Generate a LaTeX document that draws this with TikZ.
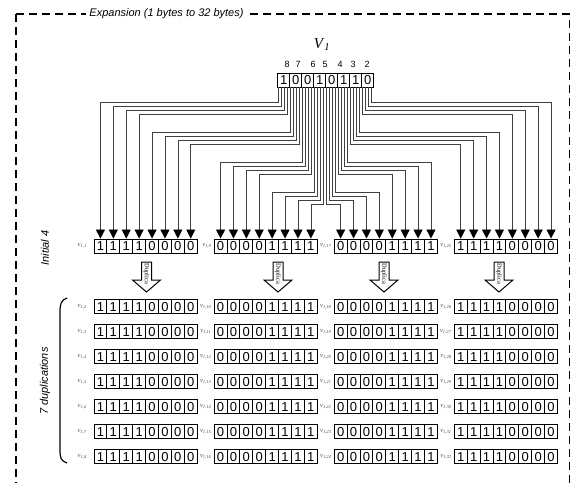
\documentclass[tikz,border=0pt]{standalone}
\usepackage{fontspec}
\setmainfont{Liberation Sans}
\newfontfamily\serifv{Liberation Serif}
\usetikzlibrary{arrows.meta,calc}
\begin{document}
\begin{tikzpicture}[x=1pt,y=-1pt,
  cell/.style={draw=black,line width=0.9pt,minimum width=12.9pt,minimum height=14pt,inner sep=0pt,font=\fontsize{13}{13}\selectfont},
  rcell/.style={cell,minimum width=12pt},
  num/.style={inner sep=0pt,font=\fontsize{9}{9}\selectfont},
  lab/.style={inner sep=0pt,text=black!70,font=\serifv\fontsize{6.5}{6.5}\selectfont},
  wire/.style={draw=black!75,line width=0.7pt,-{Triangle[width=9pt,length=9pt,color=black]}},
  dupar/.style={draw=black,line width=1pt,fill=white,line join=miter},
  dtext/.style={inner sep=0pt,font=\serifv\fontsize{6.5}{6.5}\selectfont,rotate=-90,anchor=west},
  side/.style={inner sep=0pt,font=\itshape\fontsize{11}{11}\selectfont,rotate=90},
  frame/.style={draw=black,line width=1.4pt,dash pattern=on 8pt off 5pt},
  brk/.style={draw=black,line width=1.2pt}
]
\clip (0,0) rectangle (577,482);
% frame
\draw[frame] (16,14) -- (16,490);
\draw[frame] (16,14) -- (569.5,14) -- (569.5,490);
\node[fill=white,inner sep=3pt,font=\itshape\fontsize{11}{11}\selectfont] (title) at (166.5,14) {Expansion (1 bytes to 32 bytes)};
% source register
\node[inner sep=0pt] (V) at (322,45) {\serifv\fontsize{15}{15}\selectfont\textit{V}\textsubscript{\textit{1}}};
\foreach \n/\x in {8/287,7/298,6/313,5/325,4/340,3/353,2/367}
  \node[num] (n\n) at (\x,64) {\n};
\foreach \b/\v in {1/1,2/0,3/0,4/1,5/0,6/1,7/1,8/0}
  \node[rcell] (b\b) at ({277.7+12*\b-6},80) {\v};
\foreach \b in {1,...,8}
  \foreach \o in {0,...,3}
    \coordinate (e\b x\o) at ($(b\b.south west)+({1.5+3*\o},0)$);
% destination rows
\foreach \r in {0,...,7} {
  \pgfmathsetmacro{\yy}{\r==0 ? 246 : 306.7+25*(\r-1)}
  \foreach \g in {1,2,3,4} {
    \pgfmathsetmacro{\xg}{94+120.1*(\g-1)}
    \pgfmathtruncatemacro{\lab}{8*(\g-1)+\r+1}
    \pgfmathsetmacro{\lx}{\g==1 ? 87 : \xg-2.5}
    \node[lab,anchor=east] (l\r x\g) at (\lx,\yy) {\textit{v}\textsubscript{\textit{1,\lab}}};
    \foreach \i in {1,...,8} {
      \pgfmathtruncatemacro{\bit}{equal(\i<5, or(\g==1,\g==4))}
      \node[cell] (c\r x\g x\i) at ({\xg+12.9*\i-6.45},\yy) {\bit};
    }
  }
}
% wires
\foreach \g in {1,...,4}
  \foreach \i in {1,...,8} {
    \pgfmathtruncatemacro{\hi}{\i>4}
    \pgfmathtruncatemacro{\bb}{2*\g-1+\hi}
    \pgfmathtruncatemacro{\oo}{mod(\i-1,4)}
    \pgfmathsetmacro{\ty}{\g<3 ? 102.5+30*(2*(\g-1)+\hi)+4*\oo : 102.5+30*(2*(4-\g)+1-\hi)+4*(3-\oo)}
    \draw[wire] (e\bb x\oo) -- (e\bb x\oo |- 0,\ty) -| (c0x\g x\i.north);
  }
% duplicate arrows
\foreach \cx [count=\k] in {146.5,278,384,499} {
  \draw[dupar] (\cx-5,262) -- (\cx+5,262) -- (\cx+5,280) -- (\cx+14,280) -- (\cx,292) -- (\cx-14,280) -- (\cx-5,280) -- cycle;
  \node[dtext] (dt\k) at (\cx,263.5) {Duplica};
}
% side labels
\node[side] (init) at (45,248) {Initial 4};
\node[side] (dups) at (45,381) {7 duplications};
\draw[brk] (67,298) .. controls (61,300) and (60,304) .. (60,312) -- (60,450) .. controls (60,458) and (61,461) .. (67,463);
\end{tikzpicture}
\end{document}
